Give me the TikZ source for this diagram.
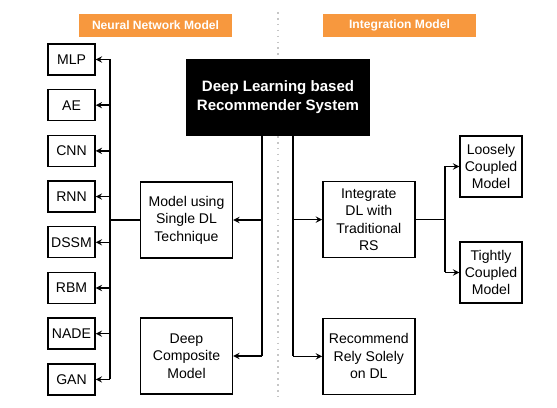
\documentclass[tikz,border=0pt]{standalone}
\usepackage{fontspec}
\setmainfont{Liberation Sans}
\usepackage{tikz}
\usetikzlibrary{positioning}
\usetikzlibrary{arrows,shapes,calc}
\usepackage{xcolor}
\definecolor{headorange}{RGB}{247,152,62}

\begin{document}
\begin{tikzpicture}[
  >=stealth,
  box/.style={draw=black, line width=1pt, align=center, inner sep=1pt, font=\fontsize{10}{12.4}\selectfont},
  smallbox/.style={box, minimum width=1.175cm, minimum height=0.775cm},
  midbox/.style={box, minimum width=2.3cm, minimum height=1.9cm},
  sidebox/.style={box, minimum width=1.55cm, minimum height=1.525cm},
  header/.style={fill=headorange, text=white, minimum width=3.825cm, minimum height=0.575cm, font=\fontsize{8.6}{10}\selectfont\bfseries},
  link/.style={line width=1pt},
]

\useasboundingbox (0,0) rectangle (13.925,10.2);

\draw[gray!45, line width=1.2pt, dash pattern=on 1.2pt off 3pt] (6.95,9.9) -- (6.95,0.25);

\node[header] (nnhead) at (3.8875,9.5625) {Neural Network Model};
\node[header] (inthead) at (9.9875,9.5625) {Integration Model};

\node[fill=black, text=white, minimum width=4.6cm, minimum height=1.925cm, align=center, font=\fontsize{10.7}{13.5}\selectfont\bfseries] (dlrs) at (6.95,7.7625) {Deep Learning based\\Recommender System};

\foreach \name [count=\i from 0] in {MLP,AE,CNN,RNN,DSSM,RBM,NADE,GAN}
  \node[smallbox] (\name) at (1.7875,8.7125-1.1425*\i) {\name};

\node[midbox] (single) at (4.6625,4.7) {Model using\\Single DL\\Technique};
\node[midbox] (composite) at (4.6625,1.3) {Deep\\Composite\\Model};
\node[midbox] (integrate) at (9.22,4.71) {Integrate\\DL with\\Traditional\\RS};
\node[midbox] (rely) at (9.22,1.29) {Recommend\\Rely Solely\\on DL};
\node[sidebox] (loose) at (12.275,6.0375) {Loosely\\Coupled\\Model};
\node[sidebox] (tight) at (12.275,3.3875) {Tightly\\Coupled\\Model};

\coordinate (bus) at (2.75,0);
\coordinate (ltrunk) at (6.55,0);
\coordinate (rtrunk) at (7.325,0);
\coordinate (fork) at (11.125,0);

\draw[link] (MLP -| bus) -- (GAN -| bus);
\foreach \name in {MLP,AE,CNN,RNN,DSSM,RBM,NADE,GAN}
  \draw[link,->] (\name -| bus) -- (\name.east);
\draw[link] (single.west) -- (single -| bus);

\draw[link] (dlrs.south -| ltrunk) -- (composite -| ltrunk);
\draw[link,->] (single -| ltrunk) -- (single.east);
\draw[link,->] (composite -| ltrunk) -- (composite.east);

\draw[link] (dlrs.south -| rtrunk) -- (rely -| rtrunk);
\draw[link,->] (integrate -| rtrunk) -- (integrate.west);
\draw[link,->] (rely -| rtrunk) -- (rely.west);

\draw[link] (integrate.east) -- (integrate -| fork);
\draw[link] (loose -| fork) -- (tight -| fork);
\draw[link,->] (loose -| fork) -- (loose.west);
\draw[link,->] (tight -| fork) -- (tight.west);

\end{tikzpicture}
\end{document}
